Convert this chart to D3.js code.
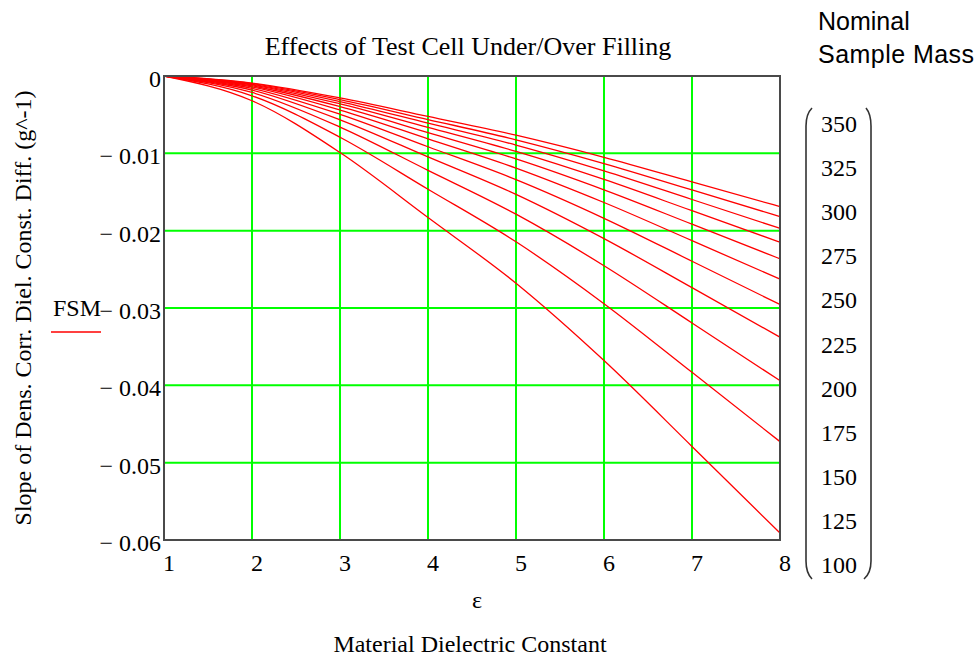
<!DOCTYPE html>
<html>
<head>
<meta charset="utf-8">
<script src="https://cdn.jsdelivr.net/npm/d3@7"></script>
<style>
  html, body { margin: 0; padding: 0; background: #fff; }
  svg { display: block; }
  .serif { font-family: "Liberation Serif", "Times New Roman", serif; fill: #000; }
  .sans { font-family: "Liberation Sans", Arial, sans-serif; fill: #000; }
</style>
</head>
<body>
<svg id="chart" width="979" height="658"></svg>
<script>
// ---- data ----
const epsilon = [1, 2, 3, 4, 5, 6, 7, 8];
const xTicks = [1, 2, 3, 4, 5, 6, 7, 8];
const yTicks = [0, -0.01, -0.02, -0.03, -0.04, -0.05, -0.06];
const yTickLabels = ["0", "\u2212 0.01", "\u2212 0.02", "\u2212 0.03", "\u2212 0.04", "\u2212 0.05", "\u2212 0.06"];
const masses = [350, 325, 300, 275, 250, 225, 200, 175, 150, 125, 100];

const fsm350 = [0, -0.00091, -0.00283, -0.00523, -0.00766, -0.01051, -0.01369, -0.01689];
const fsm325 = [0, -0.00098, -0.00305, -0.00563, -0.00825, -0.01132, -0.01474, -0.01818];
const fsm300 = [0, -0.00107, -0.0033, -0.0061, -0.00893, -0.01227, -0.01597, -0.0197];
const fsm275 = [0, -0.00116, -0.0036, -0.00665, -0.00975, -0.01338, -0.01742, -0.02149];
const fsm250 = [0, -0.00128, -0.00396, -0.00732, -0.01072, -0.01472, -0.01916, -0.02364];
const fsm225 = [0, -0.00142, -0.0044, -0.00813, -0.01191, -0.01636, -0.02129, -0.02627];
const fsm200 = [0, -0.0016, -0.00495, -0.00915, -0.0134, -0.0184, -0.02395, -0.02955];
const fsm175 = [0, -0.00183, -0.00566, -0.01046, -0.01531, -0.02103, -0.02737, -0.03377];
const fsm150 = [0, -0.00213, -0.0066, -0.0122, -0.01787, -0.02453, -0.03193, -0.0394];
const fsm125 = [0, -0.00256, -0.00792, -0.01464, -0.02144, -0.02944, -0.03832, -0.04728];
const fsm100 = [0, -0.0032, -0.0099, -0.0183, -0.0268, -0.0368, -0.0479, -0.0591];

const seriesList = [fsm350, fsm325, fsm300, fsm275, fsm250, fsm225, fsm200, fsm175, fsm150, fsm125, fsm100];

// ---- layout ----
const svg = d3.select("#chart");
const plot = { left: 164, right: 780, top: 76, bottom: 540 };

const x = d3.scaleLinear().domain([1, 8]).range([plot.left, plot.right]);
const y = d3.scaleLinear().domain([-0.06, 0]).range([plot.bottom, plot.top]);

// grid
const grid = svg.append("g");
grid.selectAll("line.vg").data(xTicks.slice(1, -1)).enter().append("line")
  .attr("x1", d => x(d)).attr("x2", d => x(d))
  .attr("y1", plot.top).attr("y2", plot.bottom)
  .attr("stroke", "#00ff00").attr("stroke-width", 2);
grid.selectAll("line.hg").data(yTicks.slice(1, -1)).enter().append("line")
  .attr("x1", plot.left).attr("x2", plot.right)
  .attr("y1", d => y(d)).attr("y2", d => y(d))
  .attr("stroke", "#00ff00").attr("stroke-width", 2);

// series lines
const line = d3.line()
  .x((d, i) => x(epsilon[i]))
  .y(d => y(d))
  .curve(d3.curveMonotoneX);
svg.append("g").selectAll("path").data(seriesList).enter().append("path")
  .attr("d", d => line(d))
  .attr("fill", "none")
  .attr("stroke", "#ff0000")
  .attr("stroke-width", 1.3);

// frame
svg.append("rect")
  .attr("x", plot.left).attr("y", plot.top)
  .attr("width", plot.right - plot.left).attr("height", plot.bottom - plot.top)
  .attr("fill", "none").attr("stroke", "#4a4a4a").attr("stroke-width", 2);

// y tick labels
svg.append("g").selectAll("text").data(yTicks).enter().append("text")
  .attr("class", "serif")
  .attr("x", 161)
  .attr("y", d => y(d) + 11)
  .attr("text-anchor", "end")
  .attr("font-size", 24)
  .text((d, i) => yTickLabels[i]);

// x tick labels
svg.append("g").selectAll("text").data(xTicks).enter().append("text")
  .attr("class", "serif")
  .attr("x", d => x(d) + 5)
  .attr("y", 571)
  .attr("text-anchor", "middle")
  .attr("font-size", 24)
  .text(d => d3.format("d")(d));

// title
svg.append("text").attr("class", "serif")
  .attr("x", 468).attr("y", 55)
  .attr("text-anchor", "middle").attr("font-size", 26)
  .text("Effects of Test Cell Under/Over Filling");

// x axis labels
svg.append("text").attr("class", "serif")
  .attr("x", 477).attr("y", 608)
  .attr("text-anchor", "middle").attr("font-size", 24)
  .text("\u03b5");
svg.append("text").attr("class", "serif")
  .attr("x", 470).attr("y", 652)
  .attr("text-anchor", "middle").attr("font-size", 24)
  .text("Material Dielectric Constant");

// y axis title
svg.append("text").attr("class", "serif")
  .attr("transform", "translate(31,308) rotate(-90)")
  .attr("text-anchor", "middle").attr("font-size", 24)
  .text("Slope of Dens. Corr. Diel. Const. Diff. (g^-1)");

// legend "FSM"
svg.append("text").attr("class", "serif")
  .attr("x", 53).attr("y", 316)
  .attr("font-size", 24)
  .text("FSM");
svg.append("line")
  .attr("x1", 51).attr("x2", 101).attr("y1", 332).attr("y2", 332)
  .attr("stroke", "#ff0000").attr("stroke-width", 1.5);

// right-hand annotation
svg.append("text").attr("class", "sans")
  .attr("x", 818).attr("y", 30).attr("font-size", 25).text("Nominal");
svg.append("text").attr("class", "sans")
  .attr("x", 818).attr("y", 63).attr("font-size", 25)
  .attr("textLength", 156).attr("lengthAdjust", "spacing")
  .text("Sample Mass");

const mY = d3.scalePoint().domain(masses).range([124, 565]);
svg.append("g").selectAll("text").data(masses).enter().append("text")
  .attr("class", "serif")
  .attr("x", 839).attr("y", d => mY(d) + 8)
  .attr("text-anchor", "middle").attr("font-size", 24)
  .text(d => d);

// matrix brackets
const bTop = 108, bBot = 579;
svg.append("path")
  .attr("d", `M812,${bTop} Q806,${bTop + 6} 806,${bTop + 18} L806,${bBot - 18} Q806,${bBot - 6} 812,${bBot}`)
  .attr("fill", "none").attr("stroke", "#333").attr("stroke-width", 1.6);
svg.append("path")
  .attr("d", `M866,${bTop} Q871,${bTop + 6} 871,${bTop + 18} L871,${bBot - 18} Q871,${bBot - 6} 864,${bBot}`)
  .attr("fill", "none").attr("stroke", "#333").attr("stroke-width", 1.6);
</script>
</body>
</html>
